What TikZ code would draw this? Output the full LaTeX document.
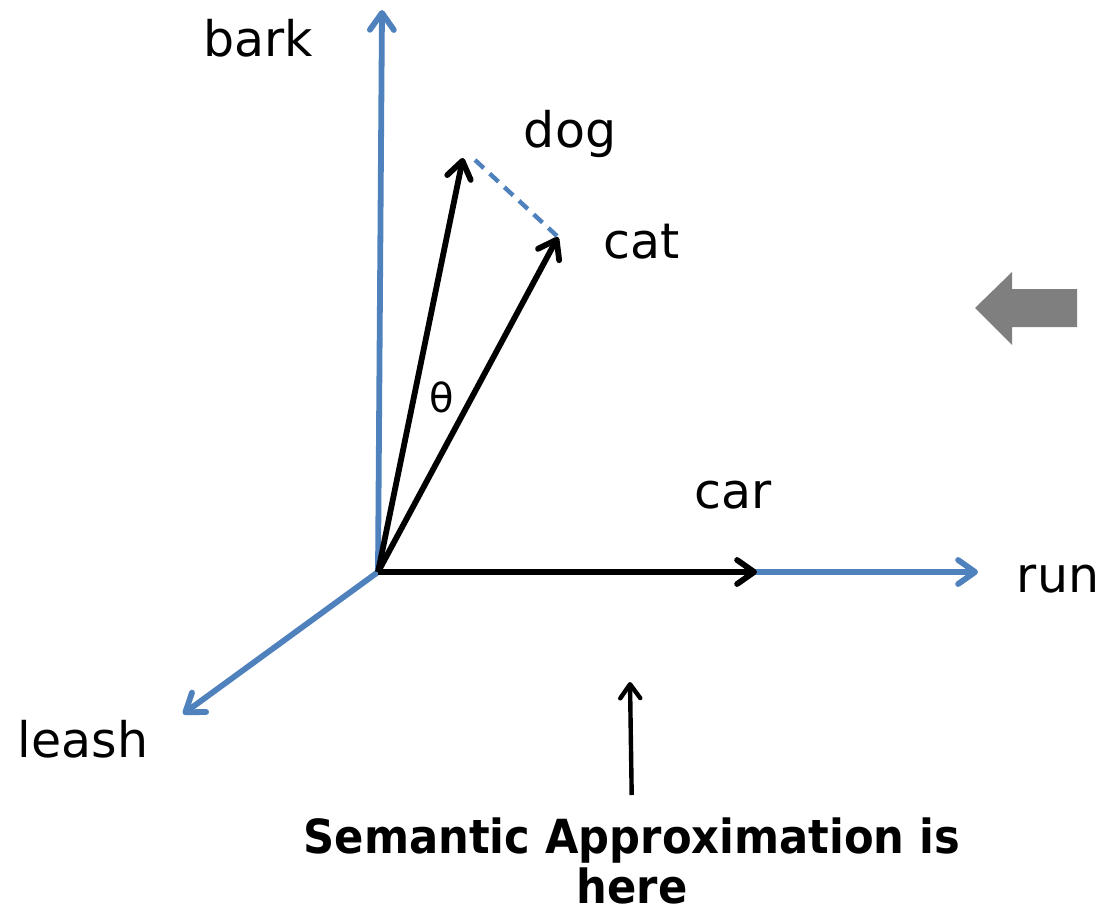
\documentclass[tikz,border=0pt]{standalone}
\usepackage{fontspec}
\setmainfont{DejaVu Sans}
\newfontfamily\notefont{DejaVu Sans}[FakeStretch=0.92]
\usepackage{xcolor}
\usetikzlibrary{arrows.meta}
\definecolor{axisblue}{RGB}{79,129,189}
\definecolor{pointgray}{RGB}{127,127,127}

\begin{document}
\begin{tikzpicture}[x=0.5pt, y=-0.5pt,
		>={Straight Barb[length=8.5pt,width=12pt,round]},
		line width=2.9pt, font=\fontsize{24.5}{29}\selectfont,
		axis/.style={->, axisblue},
		vec/.style={->, black},
		word/.style={anchor=base, inner sep=0pt}]
		\useasboundingbox (0,0) rectangle (1104,916);
		\coordinate (o) at (378,572);
		\coordinate (barktip) at (382,10);
		\coordinate (runtip) at (978,572);
		\coordinate (leashtip) at (183,714);
		\coordinate (dogtip) at (463,158);
		\coordinate (cattip) at (558,237);
		\coordinate (cartip) at (757,572);
		\coordinate (dogdash) at (475,160);
		\coordinate (catdash) at (557,236);
		\coordinate (pointer) at (630,682);
		\draw[axis] (o) -- (barktip);
		\draw[axis] (o) -- (runtip);
		\draw[axis] (o) -- (leashtip);
		\draw[vec] (o) -- (dogtip);
		\draw[vec] (o) -- (cattip);
		\draw[vec] (o) -- (cartip);
		\draw[axisblue, line width=2.2pt, dash pattern=on 6pt off 4pt] (dogdash) -- (catdash);
		\node[word] (bark) at (258,56) {bark};
		\node[word] (dog) at (570,147) {dog};
		\node[word] (cat) at (642,258) {cat};
		\node[word, font=\fontsize{20}{24}\selectfont] (theta) at (442,412) {θ};
		\node[word] (car) at (733,508) {car};
		\node[word] (run) at (1058,592) {run};
		\node[word] (leash) at (83,757) {leash};
		\node[anchor=north, inner sep=0pt, align=center,
			font=\notefont\fontsize{23.5}{25}\bfseries\selectfont] (note) at (632,815)
			{Semantic Approximation is\\here};
		\draw[->, line width=2.2pt, >={Straight Barb[length=7pt,width=10pt,round]},
			shorten <=10pt] (note.north) -- (pointer);
		\fill[pointgray] (975,308) -- (1012,272) -- (1012,289) -- (1077,289)
			-- (1077,327) -- (1012,327) -- (1012,345) -- cycle;
	\end{tikzpicture}
\end{document}
